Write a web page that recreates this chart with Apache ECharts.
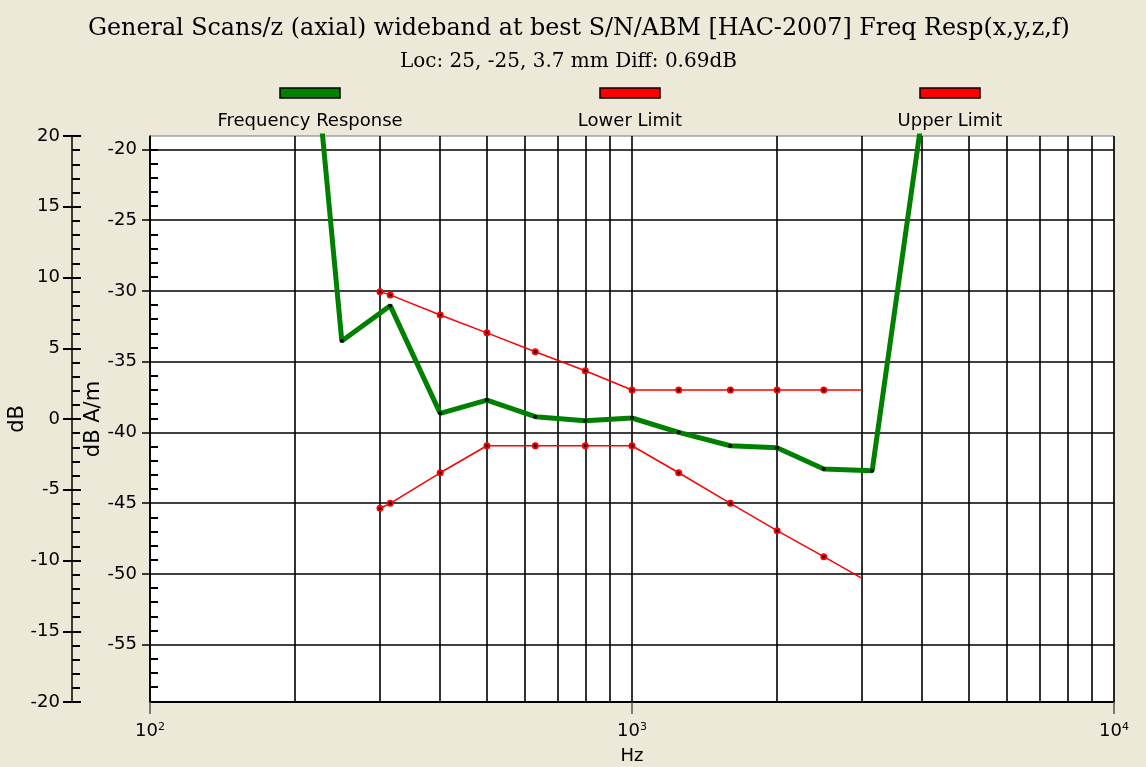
<!DOCTYPE html>
<html>
<head>
<meta charset="utf-8">
<script src="https://cdn.jsdelivr.net/npm/echarts@6/dist/echarts.min.js"></script>
<style>
  html, body { margin: 0; padding: 0; background: #ECE9D8; }
  #chart { width: 1146px; height: 767px; }
</style>
</head>
<body>
<div id="chart"></div>
<script>
// frequency response (dB A/m), 1/3 octave points
var respFreq = [200, 250, 315, 400, 500, 630, 800, 1000, 1250, 1600, 2000, 2500, 3150, 4000];
var respVal = [1.7, -33.54, -31.04, -38.65, -37.71, -38.89, -39.17, -38.98, -39.99, -40.94, -41.08, -42.58, -42.70, -17.6];

var limitFreq = [300, 315, 400, 500, 630, 800, 1000, 1250, 1600, 2000, 2500, 3000];
var upperVal = [-30.05, -30.28, -31.70, -32.96, -34.30, -35.64, -37.0, -37.0, -37.0, -37.0, -37.0, -37.0];
var lowerVal = [-45.36, -45.01, -42.85, -40.94, -40.94, -40.94, -40.94, -42.85, -45.01, -46.94, -48.78, -50.31];

// vertical grid lines between decades
var gridFreq = [200, 300, 400, 500, 600, 700, 800, 900, 2000, 3000, 4000, 5000, 6000, 7000, 8000, 9000];
// dB A/m axis
var innerTicks = [-55, -50, -45, -40, -35, -30, -25, -20];
var innerMinor = [-59, -58, -57, -56, -54, -53, -52, -51, -49, -48, -47, -46, -44, -43, -42, -41,
  -39, -38, -37, -36, -34, -33, -32, -31, -29, -28, -27, -26, -24, -23, -22, -21, -20];

var legendNames = ['Frequency Response', 'Lower Limit', 'Upper Limit'];
var legendColors = ['#008000', '#ff0000', '#ff0000'];
var legendCenters = [310, 630, 950];

var sans = 'DejaVu Sans';
var serif = 'DejaVu Serif';

function textWidth(s, font) {
  var c = document.createElement('canvas').getContext('2d');
  c.font = font;
  return c.measureText(s).width;
}

function pts(f, v) {
  return f.map(function (x, i) { return [x, v[i]]; });
}

function limitData(v) {
  var d = pts(limitFreq, v);
  d[d.length - 1] = { value: d[d.length - 1], symbol: 'none' };
  return d;
}

// icon on top, name centred under it (empty first line pushes the name down)
var legends = legendNames.map(function (n, i) {
  var w = textWidth(n, '18px "' + sans + '"');
  return {
    data: [n],
    left: legendCenters[i] - Math.max(w / 2, 30),
    top: 37,
    padding: 0,
    icon: 'rect',
    itemWidth: 60,
    itemHeight: 10,
    selectedMode: false,
    itemStyle: { color: legendColors[i], borderColor: '#000', borderWidth: 1.5 },
    formatter: function (name) { return '\n' + name; },
    textStyle: { fontFamily: sans, fontSize: 18, color: '#000', lineHeight: 56, padding: [0, 0, 0, -35 - w / 2] }
  };
});

var chart = echarts.init(document.getElementById('chart'));
chart.setOption({
  backgroundColor: '#ECE9D8',
  animation: false,
  title: [
    {
      text: 'General Scans/z (axial) wideband at best S/N/ABM [HAC-2007] Freq Resp(x,y,z,f)',
      left: 88,
      top: 12,
      padding: 0,
      textStyle: { fontFamily: serif, fontSize: 23.8, fontWeight: 'normal', color: '#000', lineHeight: 34 }
    },
    {
      text: 'Loc: 25, -25, 3.7 mm Diff: 0.69dB',
      left: 400,
      top: 51,
      padding: 0,
      textStyle: { fontFamily: serif, fontSize: 20, fontWeight: 'normal', color: '#000', lineHeight: 22 }
    }
  ],
  legend: legends,
  grid: {
    left: 150, right: 32, top: 136, bottom: 65,
    outerBoundsMode: 'none',
    containLabel: false,
    show: true, backgroundColor: '#fff', borderColor: '#777', borderWidth: 1
  },
  xAxis: {
    type: 'log',
    logBase: 10,
    min: 100,
    max: 10000,
    name: 'Hz',
    nameLocation: 'middle',
    nameGap: 45,
    nameMoveOverlap: false,
    nameTextStyle: { fontFamily: sans, fontSize: 18, color: '#000' },
    axisLine: { onZero: false, lineStyle: { color: '#000', width: 2 } },
    axisTick: { length: 12, lineStyle: { color: '#555', width: 1.5 } },
    axisLabel: {
      margin: 20,
      fontFamily: sans, fontSize: 18, color: '#000',
      formatter: function (v) { return '10{s|' + Math.round(Math.log10(v)) + '}'; },
      rich: { s: { fontFamily: sans, fontSize: 11, verticalAlign: 'top', color: '#000' } }
    },
    splitLine: { show: true, lineStyle: { color: '#000', width: 1.6 } }
  },
  yAxis: [
    {
      // outer dB axis
      type: 'value', position: 'left', offset: 78,
      min: -20, max: 20, interval: 5,
      name: 'dB', nameLocation: 'middle', nameGap: 44,
      nameMoveOverlap: false,
      nameTextStyle: { fontFamily: sans, fontSize: 21, color: '#000' },
      axisLine: { show: true, onZero: false, lineStyle: { color: '#000', width: 1.5 } },
      axisTick: { inside: true, length: 9, lineStyle: { color: '#000', width: 2 } },
      minorTick: { show: true, splitNumber: 5, length: 8, lineStyle: { color: '#000', width: 2 } },
      axisLabel: { margin: 12, fontFamily: sans, fontSize: 18, color: '#000' },
      splitLine: { show: false }
    },
    {
      // inner dB A/m axis, carries the data
      type: 'value', position: 'left', offset: 0,
      min: -59.05, max: -19.05,
      name: 'dB A/m', nameLocation: 'middle', nameGap: 46,
      nameMoveOverlap: false,
      nameTextStyle: { fontFamily: sans, fontSize: 21, color: '#000' },
      axisLine: { show: true, onZero: false, lineStyle: { color: '#000', width: 1.5 } },
      axisTick: { customValues: innerTicks, length: 8, lineStyle: { color: '#000', width: 1.5 } },
      axisLabel: { customValues: innerTicks, margin: 13, fontFamily: sans, fontSize: 18, color: '#000' },
      splitLine: { show: true, lineStyle: { color: '#000', width: 1.6 } }
    },
    {
      // minor ticks of the inner axis
      type: 'value', position: 'left', offset: 0,
      min: -59.05, max: -19.05,
      axisLine: { show: false, onZero: false },
      axisTick: { show: true, inside: true, customValues: innerMinor, length: 8, lineStyle: { color: '#000', width: 2 } },
      axisLabel: { show: false },
      splitLine: { show: false }
    },
    {
      // outer major ticks crossing the axis line
      type: 'value', position: 'left', offset: 78,
      min: -20, max: 20, interval: 5,
      axisLine: { show: false, onZero: false },
      axisTick: { show: true, length: 9, lineStyle: { color: '#000', width: 2 } },
      axisLabel: { show: false },
      splitLine: { show: false }
    }
  ],
  series: [
    {
      name: 'grid',
      type: 'line',
      yAxisIndex: 1,
      data: [],
      z: 1,
      markLine: {
        z: 1,
        silent: true,
        symbol: 'none',
        label: { show: false },
        lineStyle: { color: '#000', width: 1.6, type: 'solid' },
        data: gridFreq.map(function (f) { return { xAxis: f }; })
      }
    },
    {
      name: 'Lower Limit',
      type: 'line',
      yAxisIndex: 1,
      data: limitData(lowerVal),
      symbol: 'circle',
      symbolSize: 5,
      lineStyle: { color: '#ff0000', width: 1.5 },
      itemStyle: { color: '#000', borderColor: '#ff0000', borderWidth: 2 },
      z: 3
    },
    {
      name: 'Upper Limit',
      type: 'line',
      yAxisIndex: 1,
      data: limitData(upperVal),
      symbol: 'circle',
      symbolSize: 5,
      lineStyle: { color: '#ff0000', width: 1.5 },
      itemStyle: { color: '#000', borderColor: '#ff0000', borderWidth: 2 },
      z: 3
    },
    {
      name: 'Frequency Response',
      type: 'line',
      yAxisIndex: 1,
      data: pts(respFreq, respVal),
      symbol: 'circle',
      symbolSize: 4,
      lineStyle: { color: '#008000', width: 5 },
      itemStyle: { color: '#000' },
      z: 4
    }
  ]
});
</script>
</body>
</html>
